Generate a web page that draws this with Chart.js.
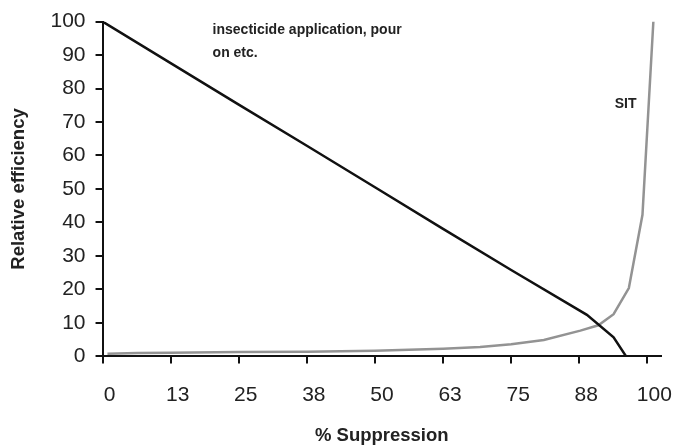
<!DOCTYPE html>
<html>
<head>
<meta charset="utf-8">
<script src="https://cdn.jsdelivr.net/npm/chart.js@4"></script>
<style>
  html, body { margin: 0; padding: 0; background: #fff; }
  #wrap { width: 675px; height: 445px; }
</style>
</head>
<body>
<div id="wrap"><canvas id="chart"></canvas></div>
<script>
// insecticide application curve
const insX = [0, 12.5, 25, 37.5, 50, 62.5, 75, 88.9, 93.8, 96.1];
const insY = [100, 87.6, 75.2, 62.9, 50.5, 38.1, 25.8, 12.4, 5.7, 0];

// SIT curve
const sitX = [0.9, 6.4, 12.5, 25, 37.5, 50, 62.5, 69.3, 75, 81, 87.7, 91, 93.8, 96.6, 99.1, 101.1];
const sitY = [0.8, 1.0, 1.1, 1.3, 1.4, 1.7, 2.3, 2.8, 3.6, 4.9, 7.7, 9.3, 12.6, 20.4, 42.3, 100];

const xTicks = [0, 12.5, 25, 37.5, 50, 62.5, 75, 87.5, 100];
const yTicks = [0, 10, 20, 30, 40, 50, 60, 70, 80, 90, 100];

const toPoints = (xs, ys) => xs.map((x, i) => ({ x: x, y: ys[i] }));

// text labels placed on the plot
const notes = {
  id: 'notes',
  afterDatasetsDraw(chart) {
    const { ctx, scales } = chart;
    ctx.save();
    ctx.fillStyle = '#222';
    ctx.textBaseline = 'middle';
    ctx.textAlign = 'left';
    ctx.font = 'bold 14px "Liberation Sans", Arial, sans-serif';
    const x1 = scales.x.getPixelForValue(20.2);
    ctx.fillText('insecticide application, pour', x1, scales.y.getPixelForValue(97.3));
    ctx.fillText('on etc.', x1, scales.y.getPixelForValue(90.7));
    ctx.fillText('SIT', scales.x.getPixelForValue(94), scales.y.getPixelForValue(75.2));
    ctx.restore();
  }
};

const axisFont = { family: '"Liberation Sans", Arial, sans-serif', size: 21, lineHeight: 1.1 };
const titleFont = { family: '"Liberation Sans", Arial, sans-serif', size: 18.5, weight: 'bold', lineHeight: 1.0 };

new Chart(document.getElementById('chart').getContext('2d'), {
  type: 'line',
  data: {
    datasets: [
      {
        label: 'insecticide application, pour on etc.',
        data: toPoints(insX, insY),
        borderColor: '#111',
        borderWidth: 2.5,
        pointRadius: 0,
        tension: 0
      },
      {
        label: 'SIT',
        data: toPoints(sitX, sitY),
        borderColor: '#939393',
        borderWidth: 2.5,
        pointRadius: 0,
        tension: 0
      }
    ]
  },
  options: {
    responsive: true,
    maintainAspectRatio: false,
    animation: false,
    layout: { padding: { top: 13, right: 14, bottom: 0, left: 10 } },
    plugins: {
      legend: { display: false },
      tooltip: { enabled: false }
    },
    scales: {
      x: {
        type: 'linear',
        min: 0,
        max: 102.5,
        afterBuildTicks: axis => { axis.ticks = xTicks.map(v => ({ value: v })); },
        // let the last label run into the right margin
        afterFit: axis => { axis.paddingRight = 0; },
        ticks: {
          color: '#222',
          font: axisFont,
          padding: 20,
          labelOffset: 7,
          maxRotation: 0,
          callback: v => Math.round(v)
        },
        grid: { drawOnChartArea: false, drawTicks: true, tickLength: 7, color: '#111', lineWidth: 2 },
        border: { color: '#111', width: 2 },
        title: { display: true, text: '% Suppression', color: '#222', font: titleFont, padding: 0 }
      },
      y: {
        min: 0,
        max: 100,
        afterBuildTicks: axis => { axis.ticks = yTicks.map(v => ({ value: v })); },
        ticks: { color: '#222', font: axisFont, padding: 10 },
        grid: { drawOnChartArea: false, drawTicks: true, tickLength: 7, color: '#111', lineWidth: 2 },
        border: { color: '#111', width: 2 },
        title: { display: true, text: 'Relative efficiency', color: '#222', font: titleFont, padding: { top: 0, bottom: 12 } }
      }
    }
  },
  plugins: [notes]
});
</script>
</body>
</html>
